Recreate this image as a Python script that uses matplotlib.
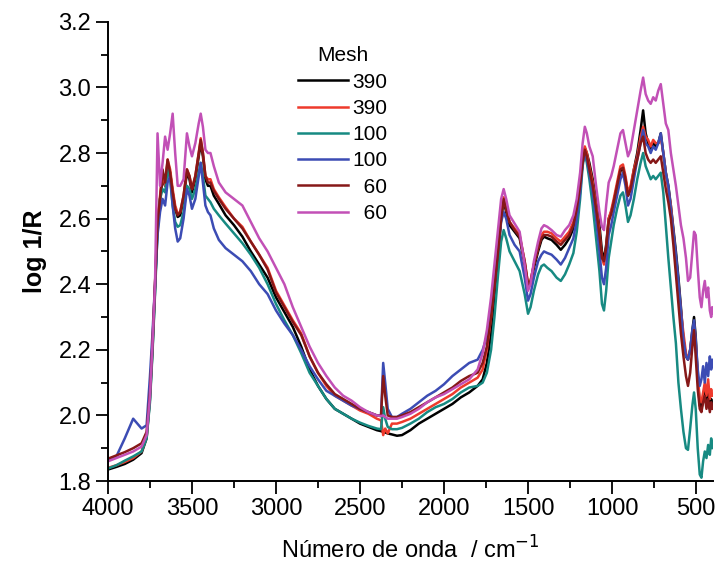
import matplotlib
matplotlib.use("Agg")
import matplotlib.pyplot as plt
from matplotlib.ticker import MultipleLocator

plt.rcParams['font.family'] = ['Liberation Sans', 'DejaVu Sans']

# wavenumber grid (cm-1), shared by all spectra
wavenumber = [
    4000, 3950, 3900, 3850, 3800, 3770, 3750, 3735, 3720, 3705,
    3690, 3675, 3660, 3645, 3630, 3615, 3600, 3585, 3570, 3550,
    3530, 3515, 3500, 3480, 3460, 3448, 3435, 3420, 3405, 3390,
    3370, 3340, 3300, 3250, 3200, 3150, 3100, 3050, 3000, 2950,
    2900, 2850, 2800, 2750, 2700, 2650, 2600, 2550, 2500, 2450,
    2400, 2375, 2362, 2350, 2335, 2310, 2280, 2250, 2200, 2150,
    2100, 2050, 2000, 1950, 1900, 1850, 1800, 1770, 1745, 1720,
    1700, 1680, 1660, 1645, 1630, 1610, 1580, 1550, 1520, 1500,
    1485, 1465, 1440, 1420, 1405, 1385, 1360, 1330, 1305, 1280,
    1255, 1230, 1210, 1190, 1175, 1162, 1150, 1135, 1115, 1095,
    1075, 1060, 1048, 1035, 1020, 1005, 990, 970, 950, 935,
    920, 905, 890, 870, 850, 830, 815, 800, 785, 770,
    755, 740, 725, 710, 695, 680, 665, 650, 635, 620,
    605, 590, 575, 560, 548, 535, 522, 512, 502, 490,
    478, 468, 458, 448, 438, 428, 418, 410, 404, 400,
]

mesh390_a = [
    1.835, 1.843, 1.852, 1.865, 1.885, 1.93, 2.05, 2.20, 2.38, 2.58,
    2.66, 2.72, 2.70, 2.77, 2.74, 2.68, 2.63, 2.605, 2.61, 2.66,
    2.74, 2.72, 2.68, 2.72, 2.79, 2.83, 2.79, 2.72, 2.70, 2.70,
    2.67, 2.645, 2.61, 2.58, 2.545, 2.50, 2.46, 2.42, 2.36, 2.315,
    2.27, 2.21, 2.14, 2.09, 2.05, 2.02, 2.005, 1.99, 1.975, 1.965,
    1.955, 1.952, 1.95, 1.948, 1.945, 1.942, 1.938, 1.94, 1.955, 1.975,
    1.99, 2.005, 2.02, 2.035, 2.055, 2.07, 2.09, 2.11, 2.16, 2.25,
    2.36, 2.47, 2.60, 2.655, 2.62, 2.58, 2.56, 2.54, 2.46, 2.39,
    2.40, 2.45, 2.50, 2.535, 2.545, 2.54, 2.535, 2.52, 2.505, 2.52,
    2.54, 2.57, 2.62, 2.70, 2.77, 2.815, 2.80, 2.77, 2.72, 2.66,
    2.58, 2.50, 2.475, 2.52, 2.60, 2.62, 2.65, 2.70, 2.745, 2.755,
    2.72, 2.67, 2.69, 2.75, 2.80, 2.87, 2.93, 2.86, 2.83, 2.81,
    2.83, 2.82, 2.83, 2.86, 2.80, 2.74, 2.70, 2.64, 2.57, 2.50,
    2.42, 2.33, 2.23, 2.18, 2.17, 2.20, 2.26, 2.30, 2.24, 2.12,
    2.03, 2.02, 2.05, 2.09, 2.04, 2.08, 2.02, 2.05, 2.03, 2.03,
]

mesh390_b = [
    1.84, 1.848, 1.858, 1.87, 1.89, 1.935, 2.06, 2.21, 2.40, 2.60,
    2.67, 2.74, 2.70, 2.78, 2.75, 2.69, 2.64, 2.615, 2.62, 2.67,
    2.75, 2.73, 2.69, 2.73, 2.80, 2.845, 2.80, 2.73, 2.72, 2.72,
    2.69, 2.665, 2.635, 2.60, 2.575, 2.53, 2.49, 2.45, 2.38, 2.335,
    2.29, 2.25, 2.18, 2.13, 2.09, 2.06, 2.045, 2.03, 2.015, 2.005,
    1.99, 1.985, 1.94, 1.96, 1.945, 1.975, 1.975, 1.98, 1.99, 2.005,
    2.02, 2.035, 2.05, 2.065, 2.085, 2.10, 2.115, 2.14, 2.20, 2.30,
    2.40, 2.50, 2.61, 2.665, 2.63, 2.59, 2.57, 2.55, 2.47, 2.40,
    2.41, 2.46, 2.51, 2.55, 2.56, 2.56, 2.555, 2.54, 2.53, 2.545,
    2.56, 2.59, 2.64, 2.71, 2.78, 2.82, 2.80, 2.76, 2.71, 2.64,
    2.56, 2.48, 2.46, 2.51, 2.60, 2.625, 2.66, 2.71, 2.76, 2.765,
    2.73, 2.68, 2.70, 2.75, 2.79, 2.85, 2.88, 2.85, 2.84, 2.82,
    2.84, 2.83, 2.83, 2.85, 2.80, 2.74, 2.69, 2.64, 2.56, 2.48,
    2.40, 2.32, 2.25, 2.19, 2.17, 2.20, 2.25, 2.28, 2.22, 2.12,
    2.05, 2.04, 2.07, 2.10, 2.06, 2.11, 2.05, 2.08, 2.06, 2.06,
]

mesh100_a = [
    1.838, 1.848, 1.862, 1.875, 1.89, 1.93, 2.04, 2.19, 2.37, 2.56,
    2.66, 2.69, 2.68, 2.75, 2.72, 2.64, 2.59, 2.575, 2.58, 2.62,
    2.70, 2.69, 2.66, 2.69, 2.74, 2.77, 2.73, 2.67, 2.66, 2.65,
    2.63, 2.61, 2.585, 2.555, 2.525, 2.49, 2.45, 2.40, 2.34, 2.29,
    2.245, 2.19, 2.13, 2.09, 2.05, 2.02, 2.005, 1.99, 1.978, 1.968,
    1.96, 1.958, 2.025, 1.99, 1.965, 1.958, 1.958, 1.962, 1.975, 1.99,
    2.01, 2.025, 2.035, 2.05, 2.07, 2.085, 2.09, 2.10, 2.13, 2.20,
    2.30, 2.42, 2.53, 2.565, 2.54, 2.50, 2.47, 2.44, 2.37, 2.31,
    2.33, 2.38, 2.43, 2.455, 2.46, 2.45, 2.44, 2.42, 2.41, 2.43,
    2.46, 2.495, 2.56, 2.66, 2.76, 2.80, 2.77, 2.72, 2.64, 2.54,
    2.44, 2.34, 2.32, 2.38, 2.48, 2.53, 2.58, 2.63, 2.67, 2.68,
    2.64, 2.59, 2.61, 2.66, 2.72, 2.77, 2.80, 2.76, 2.74, 2.72,
    2.73, 2.72, 2.73, 2.74, 2.68, 2.58, 2.48, 2.39, 2.30, 2.22,
    2.10, 2.02, 1.95, 1.90, 1.895, 1.96, 2.03, 2.07, 2.02, 1.90,
    1.82, 1.81, 1.86, 1.89, 1.87, 1.91, 1.88, 1.93, 1.90, 1.92,
]

mesh100_b = [
    1.865, 1.875, 1.93, 1.99, 1.96, 1.97, 2.12, 2.25, 2.40, 2.55,
    2.62, 2.66, 2.64, 2.71, 2.73, 2.64, 2.57, 2.53, 2.54, 2.60,
    2.69, 2.67, 2.63, 2.66, 2.73, 2.77, 2.71, 2.64, 2.62, 2.61,
    2.57, 2.535, 2.51, 2.49, 2.47, 2.44, 2.40, 2.37, 2.32, 2.28,
    2.245, 2.20, 2.15, 2.11, 2.075, 2.06, 2.045, 2.03, 2.02, 2.01,
    2.00, 2.00, 2.16, 2.10, 2.02, 1.995, 1.995, 2.005, 2.02, 2.04,
    2.06, 2.075, 2.095, 2.12, 2.14, 2.16, 2.17, 2.20, 2.24, 2.32,
    2.40, 2.50, 2.59, 2.62, 2.60, 2.55, 2.52, 2.50, 2.42, 2.35,
    2.37, 2.42, 2.47, 2.49, 2.50, 2.495, 2.49, 2.475, 2.46, 2.48,
    2.51, 2.54, 2.60, 2.68, 2.77, 2.80, 2.78, 2.74, 2.68, 2.60,
    2.50, 2.42, 2.40, 2.45, 2.55, 2.58, 2.62, 2.67, 2.72, 2.74,
    2.70, 2.64, 2.66, 2.72, 2.78, 2.83, 2.87, 2.83, 2.82, 2.80,
    2.82, 2.81, 2.83, 2.86, 2.80, 2.74, 2.70, 2.63, 2.56, 2.49,
    2.41, 2.32, 2.23, 2.18, 2.17, 2.20, 2.26, 2.29, 2.23, 2.14,
    2.09, 2.11, 2.15, 2.10, 2.16, 2.12, 2.18, 2.14, 2.17, 2.15,
]

mesh60_a = [
    1.868, 1.878, 1.888, 1.90, 1.915, 1.95, 2.07, 2.22, 2.40, 2.59,
    2.66, 2.75, 2.71, 2.78, 2.74, 2.68, 2.63, 2.61, 2.62, 2.67,
    2.75, 2.73, 2.69, 2.73, 2.80, 2.84, 2.80, 2.73, 2.71, 2.71,
    2.685, 2.66, 2.63, 2.60, 2.57, 2.53, 2.49, 2.445, 2.375, 2.33,
    2.285, 2.245, 2.18, 2.13, 2.095, 2.065, 2.05, 2.035, 2.02, 2.01,
    2.00, 1.998, 2.12, 2.06, 2.00, 1.995, 1.995, 2.0, 2.01, 2.025,
    2.04, 2.055, 2.07, 2.085, 2.105, 2.12, 2.13, 2.16, 2.21, 2.30,
    2.39, 2.49, 2.60, 2.66, 2.63, 2.59, 2.565, 2.545, 2.47, 2.40,
    2.41, 2.46, 2.51, 2.54, 2.55, 2.55, 2.545, 2.53, 2.52, 2.535,
    2.55, 2.58, 2.63, 2.70, 2.77, 2.81, 2.79, 2.75, 2.70, 2.63,
    2.55, 2.48, 2.47, 2.51, 2.59, 2.615, 2.65, 2.70, 2.75, 2.755,
    2.72, 2.67, 2.69, 2.74, 2.78, 2.83, 2.85, 2.80, 2.78, 2.77,
    2.78, 2.77, 2.78, 2.79, 2.74, 2.69, 2.65, 2.60, 2.52, 2.43,
    2.34, 2.25, 2.18, 2.12, 2.09, 2.13, 2.21, 2.26, 2.18, 2.08,
    2.02, 2.01, 2.04, 2.06, 2.02, 2.05, 2.01, 2.04, 2.02, 2.02,
]

mesh60_b = [
    1.86, 1.87, 1.88, 1.89, 1.905, 1.94, 2.06, 2.22, 2.40, 2.86,
    2.70, 2.77, 2.85, 2.81, 2.86, 2.92, 2.80, 2.70, 2.70, 2.72,
    2.86, 2.82, 2.79, 2.83, 2.89, 2.92, 2.88, 2.81, 2.80, 2.80,
    2.76, 2.71, 2.68, 2.66, 2.64, 2.59, 2.54, 2.50, 2.45, 2.40,
    2.33, 2.27, 2.21, 2.16, 2.12, 2.085, 2.06, 2.045, 2.025, 2.01,
    2.00, 1.998, 2.00, 1.995, 1.99, 1.99, 1.99, 1.995, 2.005, 2.02,
    2.04, 2.055, 2.065, 2.08, 2.095, 2.11, 2.14, 2.19, 2.26, 2.36,
    2.46, 2.56, 2.66, 2.69, 2.66, 2.61, 2.585, 2.56, 2.46, 2.38,
    2.40, 2.47, 2.53, 2.57, 2.58, 2.575, 2.565, 2.55, 2.545, 2.565,
    2.58, 2.61, 2.66, 2.74, 2.83, 2.88, 2.86, 2.82, 2.79, 2.70,
    2.62, 2.575, 2.565, 2.64, 2.71, 2.73, 2.76, 2.81, 2.86, 2.87,
    2.83, 2.79, 2.81, 2.87, 2.93, 2.99, 3.03, 2.98, 2.96, 2.95,
    2.97, 2.96, 2.99, 3.01, 2.95, 2.89, 2.87, 2.80, 2.75, 2.70,
    2.64, 2.58, 2.54, 2.48, 2.41, 2.42, 2.50, 2.56, 2.55, 2.45,
    2.36, 2.33, 2.38, 2.41, 2.36, 2.39, 2.32, 2.30, 2.33, 2.31,
]

labels = ['390', '390', '100', '100', '\u200760', '\u200760']
colors = ['#000000', '#ee3a2c', '#178a82', '#3c4cb4', '#861818', '#c250b6']
series = [mesh390_a, mesh390_b, mesh100_a, mesh100_b, mesh60_a, mesh60_b]

fig = plt.figure(figsize=(7.15, 5.74), dpi=100)
ax = fig.add_axes([0.151, 0.162, 0.846, 0.80])

for y, c, lab in zip(series, colors, labels):
    ax.plot(wavenumber, y, color=c, lw=1.8, label=lab)

ax.set_xlim(4000, 400)
ax.set_ylim(1.8, 3.2)
ax.xaxis.set_major_locator(MultipleLocator(500))
ax.xaxis.set_minor_locator(MultipleLocator(250))
ax.yaxis.set_major_locator(MultipleLocator(0.2))
ax.yaxis.set_minor_locator(MultipleLocator(0.1))
ax.yaxis.set_major_formatter(plt.FuncFormatter(lambda v, p: f'{v:.1f}'))

for s in ['top', 'right']:
    ax.spines[s].set_visible(False)
for s in ['left', 'bottom']:
    ax.spines[s].set_linewidth(1.4)
ax.tick_params(which='major', direction='out', length=9, width=1.3, labelsize=17, pad=3)
ax.tick_params(which='minor', direction='out', length=5, width=1.3)

ax.set_ylabel('log 1/R', fontsize=18, fontweight='bold', labelpad=8)
ax.set_xlabel('Número de onda  / cm$^{-1}$', fontsize=17, labelpad=12)

leg = ax.legend(title='Mesh', loc='upper left', bbox_to_anchor=(0.30, 0.965),
                frameon=False, fontsize=15, title_fontsize=15,
                handlelength=2.4, handletextpad=0.2, labelspacing=0.35,
                borderaxespad=0)

fig.savefig('out.png', dpi=100)
